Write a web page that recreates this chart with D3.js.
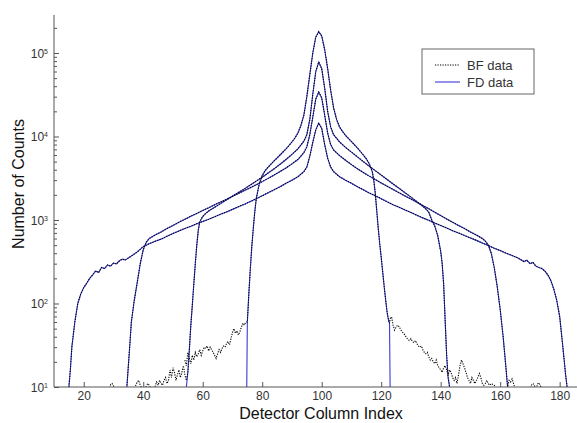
<!DOCTYPE html>
<html>
<head>
<meta charset="utf-8">
<script src="https://cdn.jsdelivr.net/npm/d3@7"></script>
<style>
  body { margin: 0; background: #fff; }
  svg { display: block; font-family: "Liberation Sans", Arial, sans-serif; }
</style>
</head>
<body>
<svg id="chart" width="577" height="423"></svg>
<script>
// widest profile (edges ~15 / 183)
var colsA = [15,15.5,16,17,18,19,20,21,22,23,24,25,26,27,28,29,30,31,32,33,34,36,38,40,42,44,46,48,50,52,54,56,58,60,62,64,66,68,70,72,74,76,78,80,82,84,86,88,90,92,94,95,96,97,98,99,100,101,102,103,104,106,108,110,112,114,116,118,120,122,124,126,128,130,132,134,136,138,140,142,144,146,148,150,152,154,156,158,160,162,164,166,168,169,170,171,172,173,174,175,176,177,178,179,180,181,182,182.5];
var countsA = [10,16,30,60,100,130,155,175,200,220,245,235,270,262,290,280,305,298,325,340,332,370,415,480,520,555,590,640,690,740,790,840,900,960,1020,1090,1170,1250,1340,1440,1540,1660,1800,1950,2120,2300,2500,2750,3000,3300,3800,4300,5800,8500,12000,14500,12500,8000,5500,4300,3800,3300,3000,2750,2500,2300,2100,1950,1800,1650,1520,1420,1320,1230,1140,1060,990,920,860,800,745,700,650,610,570,530,495,460,430,400,375,350,318,330,300,310,280,270,262,245,220,190,150,110,70,32,14,10];

// edges ~35 / 163
var colsB = [34.5,35,35.5,36,37,38,39,40,41,42,44,46,48,50,52,54,56,58,60,62,64,66,68,70,72,74,76,78,80,82,84,86,88,90,92,94,95,96,97,98,99,100,101,102,103,104,106,108,110,112,114,116,118,120,122,124,126,128,130,132,134,136,138,140,142,144,146,148,150,152,154,155,156,157,158,159,160,161,162,162.5];
var countsB = [10,18,32,60,110,180,300,440,540,600,660,720,790,860,940,1020,1110,1200,1300,1400,1520,1640,1770,1920,2080,2250,2440,2650,2880,3150,3450,3800,4200,4700,5300,6400,7500,10500,17000,28000,34000,29000,18000,11000,8000,6900,5900,5200,4600,4100,3700,3350,3050,2780,2540,2320,2120,1940,1780,1630,1490,1360,1240,1130,1030,940,860,790,720,660,600,560,500,400,270,160,85,40,16,10];

// edges ~55 / 143
var colsC = [54.5,55,55.5,56,56.5,57,57.5,58,58.5,59,60,61,62,64,66,68,70,72,74,76,78,80,82,84,86,88,90,92,94,95,96,97,98,99,100,101,102,103,104,106,108,110,112,114,116,118,120,122,124,126,128,130,132,134,135,136,137,138,139,140,140.5,141,141.5,142,142.5,143];
var countsC = [10,15,28,55,95,170,300,500,750,950,1100,1200,1280,1420,1570,1740,1920,2130,2360,2620,2920,3250,3650,4100,4650,5300,6100,7100,8800,10500,16000,32000,60000,78000,65000,38000,20000,13000,10500,8600,7400,6500,5700,5000,4400,3900,3450,3050,2700,2400,2120,1880,1660,1460,1360,1240,1000,850,650,420,300,170,63,24,13,10];

// narrowest profile (edges ~75 / 123)
var colsD = [74.8,75,75.5,76,76.5,77,77.5,78,79,80,81,82,84,86,88,89,90,91,92,93,94,95,96,97,98,99,100,101,102,103,104,105,106,107,108,110,112,114,115,116,117,117.5,118,118.5,119,119.5,120,120.5,121,121.5,122,122.5,122.8,123];
var countsD = [10,60,130,260,480,800,1250,1800,2700,3400,3900,4300,5100,6000,7100,7800,8600,9600,11000,13500,18000,30000,55000,100000,155000,180000,160000,110000,65000,36000,22000,16000,13000,11500,10300,8700,7300,6000,5400,4700,3800,3000,2100,1300,800,520,360,240,160,110,78,62,58,10];

// BF tails outside the field edges
var tailColsDL = [54,54.5,55,55.5,56,56.5,57,57.5,58,58.5,59,59.5,60,60.5,61,61.5,62,62.5,63,63.5,64,64.5,65,65.5,66,66.5,67,67.5,68,68.5,69,69.5,70,70.5,71,71.5,72,72.5,73,73.5,74,74.5,75];
var tailCountsDL = [21,18,26,22,19,24,21,26,23,25,28,24,27,30,29,31,27,30,28,26,24,22,25,28,26,29,31,30,33,35,32,38,45,50,44,47,42,46,52,58,55,60,60];
var tailColsDR = [123,123.5,124,124.5,125,125.5,126,126.5,127,127.5,128,128.5,129,129.5,130,130.5,131,131.5,132,132.5,133,133.5,134,134.5,135,135.5,136,136.5,137,137.5,138,138.5,139,139.5,140,140.5,141,141.5,142,142.5,143,143.5,144,144.5,145,145.5,146,146.5,147,147.5,148,148.5,149,149.5,150,150.5,151,151.5,152,152.5,153,153.5,154,154.5,155,155.5,156,156.5,157,158,158.5];
var tailCountsDR = [66,69,55,48,52,55,53,49,46,44,42,39,37,36,38,35,34,36,33,31,30,31,28,26,25,26,23,21,22,20,19,21,18,17,16,15,17,18,16,14,16,15,13,12,13,11,14,18,21,19,17,15,13,12,11,13,12,11,12,13,14.5,13,11,10.5,11,12,11,10.5,11,10.5,9];
var tailColsCL = [37,37.5,38,38.5,39,40,41,41.5,42,43,44,44.5,45,45.5,46,46.5,47,47.5,48,48.5,49,49.5,50,50.5,51,51.5,52,52.5,53,53.5,54,54.5];
var tailCountsCL = [9,10.5,11.5,12,10.5,9,10.2,11,10.5,9,10.2,11.5,10.5,12,11,10.5,12,13,11,12,16,13,17,15,12,14,16,13,15,18,14,12];
var tailColsBL = [27,28.5,29,29.5,30,30.5,33,34,34.5];
var tailCountsBL = [8,8.5,10.6,11,10.4,9,8,9.5,10];
var tailColsBR = [162.5,163,163.5,164,164.5,165,166,170,170.5,171,171.5,172,172.5,173,173.5,174];
var tailCountsBR = [10,12,11.5,12.5,11,9.5,8,8,10.5,11,10.5,9,10.8,11.2,10.5,9];

var xTicks = [20, 40, 60, 80, 100, 120, 140, 160, 180];
var yMajor = [1e1, 1e2, 1e3, 1e4, 1e5];
var legendLabels = ["BF data", "FD data"];

function pts(cols, counts) {
    return cols.map((c, i) => ({x: c, y: counts[i]}));
}

var fdSeries = [pts(colsA, countsA), pts(colsB, countsB), pts(colsC, countsC), pts(colsD, countsD)];

// BF = tails + the FD body between them
function joinBF(left, body, right) {
    var lo = left.length ? left[left.length - 1].x : -Infinity;
    var hi = right.length ? right[0].x : Infinity;
    return left.concat(body.filter(p => p.x > lo && p.x < hi), right);
}
var bfSeries = [
    fdSeries[0],
    joinBF(pts(tailColsBL, tailCountsBL), fdSeries[1], pts(tailColsBR, tailCountsBR)),
    joinBF(pts(tailColsCL, tailCountsCL), fdSeries[2], []),
    joinBF(pts(tailColsDL, tailCountsDL), fdSeries[3], pts(tailColsDR, tailCountsDR))
];

const svg = d3.select("#chart");
const x = d3.scaleLinear().domain([10, 186.5]).range([54, 579]);
const y = d3.scaleLog().domain([10, 2.85e5]).range([387, 15]);

svg.append("defs").append("clipPath").attr("id", "plot")
    .append("rect").attr("x", 54).attr("y", 0).attr("width", 523).attr("height", 387);

const line = d3.line().x(d => x(d.x)).y(d => y(Math.max(d.y, 5)));

const lines = svg.append("g").attr("clip-path", "url(#plot)").attr("fill", "none");
lines.selectAll("path.fd").data(fdSeries).enter().append("path")
    .attr("class", "fd")
    .attr("d", line)
    .attr("stroke", "#3a3ad8")
    .attr("stroke-width", 1.1);
lines.selectAll("path.bf").data(bfSeries).enter().append("path")
    .attr("class", "bf")
    .attr("d", line)
    .attr("stroke", "#000")
    .attr("stroke-width", 1.1)
    .attr("stroke-dasharray", "1.2,1.3");

// x axis
const xAxis = svg.append("g").attr("transform", "translate(0,387)")
    .call(d3.axisBottom(x).tickValues(xTicks).tickSizeInner(-5).tickSizeOuter(0).tickPadding(4));
xAxis.select(".domain").attr("d", "M54,0H577");

// y axis, minor ticks first
const minor = [];
for (let k = 1; k <= 5; k++) for (let m = 2; m <= 9; m++) if (m * Math.pow(10, k) <= 2.85e5) minor.push(m * Math.pow(10, k));
svg.append("g").attr("transform", "translate(54,0)")
    .call(d3.axisLeft(y).tickValues(minor).tickSizeInner(-3).tickSizeOuter(0).tickFormat(""))
    .select(".domain").remove();
const yAxis = svg.append("g").attr("transform", "translate(54,0)")
    .call(d3.axisLeft(y).tickValues(yMajor).tickSizeInner(-5).tickSizeOuter(0).tickFormat(""));
yAxis.select(".domain").attr("d", "M0,15V387");
yAxis.selectAll(".tick").append("text")
    .attr("x", -6).attr("dy", "0.35em").attr("text-anchor", "end")
    .attr("fill", "#333").style("font-size", "12px")
    .each(function(d) {
        const t = d3.select(this);
        t.append("tspan").text("10");
        t.append("tspan").attr("dy", "-0.55em").style("font-size", "7px").text(Math.round(Math.log10(d)));
    });

svg.selectAll(".domain").attr("stroke", "#555");
svg.selectAll(".tick line").attr("stroke", "#555");
xAxis.selectAll(".tick text").attr("fill", "#333").style("font-size", "12px");

svg.append("text")
    .attr("x", 321).attr("y", 419)
    .attr("text-anchor", "middle")
    .style("font-size", "16px").attr("fill", "#111")
    .text("Detector Column Index");
svg.append("text")
    .attr("transform", "translate(24,184) rotate(-90)")
    .attr("text-anchor", "middle")
    .style("font-size", "16px").attr("fill", "#111")
    .text("Number of Counts");

// legend
const legend = svg.append("g");
legend.append("rect")
    .attr("x", 422).attr("y", 49).attr("width", 112).attr("height", 45)
    .attr("fill", "#fff").attr("stroke", "#666");
const entry = legend.selectAll("g.entry").data(legendLabels).enter().append("g")
    .attr("transform", (d, i) => `translate(0,${65 + i * 17})`);
entry.append("line")
    .attr("x1", 435).attr("x2", 460)
    .attr("stroke", (d, i) => i === 0 ? "#000" : "#3a3ad8")
    .attr("stroke-width", 1.1)
    .attr("stroke-dasharray", (d, i) => i === 0 ? "1.2,1.3" : null);
entry.append("text")
    .attr("x", 467).attr("dy", "0.35em")
    .style("font-size", "13px").attr("fill", "#333")
    .text(d => d);
</script>
</body>
</html>
